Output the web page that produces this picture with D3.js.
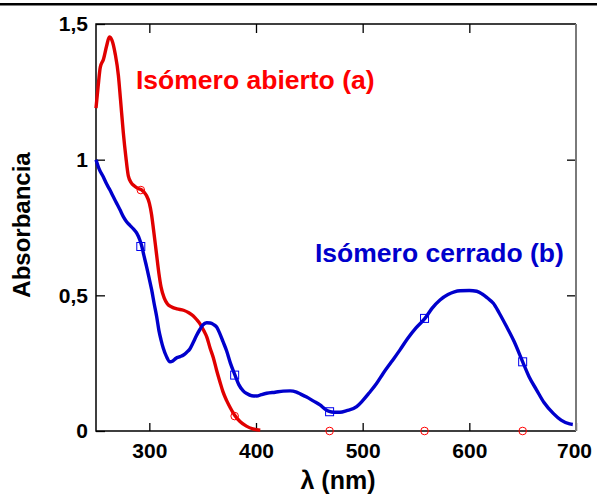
<!DOCTYPE html>
<html>
<head>
<meta charset="utf-8">
<script src="https://cdn.jsdelivr.net/npm/d3@7"></script>
<style>
  body { margin: 0; background: #fff; }
  text { font-family: "Liberation Sans", Arial, sans-serif; font-weight: bold; }
</style>
</head>
<body>
<div id="chart"></div>
<script>
// wavelength (nm) / absorbance
const openWl = [250, 252, 254, 257, 260, 262.5, 265, 268, 271, 273, 275.6, 278, 280.3, 283, 286, 290, 293, 297, 300, 302, 304, 306.5, 309, 311, 314, 317, 321, 326, 332, 337, 341, 344.5, 347.5, 351, 354, 357, 360, 363, 366.3, 369, 372.5, 376, 380, 385, 391, 397, 404];
const openAbs = [1.19, 1.27, 1.34, 1.37, 1.42, 1.452, 1.44, 1.39, 1.31, 1.22, 1.10, 1.01, 0.94, 0.915, 0.903, 0.893, 0.888, 0.87, 0.84, 0.80, 0.74, 0.66, 0.58, 0.53, 0.49, 0.468, 0.457, 0.45, 0.445, 0.436, 0.425, 0.41, 0.395, 0.37, 0.345, 0.305, 0.27, 0.225, 0.18, 0.145, 0.112, 0.085, 0.058, 0.035, 0.018, 0.008, 0.003];

const closedWl = [250, 253, 256.8, 260, 263.1, 266, 269.4, 272.5, 275.6, 278.5, 282, 285, 288.2, 291, 293, 295, 297.4, 300, 302.2, 304.5, 306.9, 309, 311, 313.1, 316, 319.4, 322, 325, 328.8, 332, 335, 338, 341, 344, 347.5, 350, 353.8, 357, 360, 363.1, 366, 369, 372.5, 376, 380.3, 384, 388, 391.3, 396, 400.7, 405, 410, 418, 425.6, 432, 438, 441.3, 447.5, 454, 460, 465, 468.7, 473, 478.7, 485, 494.4, 500, 506, 513, 519.3, 527, 535, 542, 550, 558.4, 565, 572.5, 580, 586, 591.3, 600, 606.9, 612, 617, 622.5, 628, 635, 642, 650, 656, 663.1, 670, 678.7, 686, 694, 697];
const closedAbs = [1.0, 0.965, 0.937, 0.91, 0.888, 0.865, 0.839, 0.815, 0.79, 0.772, 0.757, 0.745, 0.729, 0.705, 0.68, 0.645, 0.606, 0.56, 0.52, 0.47, 0.421, 0.37, 0.335, 0.305, 0.275, 0.255, 0.258, 0.268, 0.274, 0.28, 0.29, 0.302, 0.325, 0.35, 0.375, 0.39, 0.399, 0.398, 0.393, 0.383, 0.36, 0.33, 0.295, 0.25, 0.206, 0.17, 0.148, 0.138, 0.13, 0.129, 0.134, 0.139, 0.143, 0.147, 0.148, 0.143, 0.137, 0.125, 0.11, 0.096, 0.08, 0.072, 0.069, 0.069, 0.075, 0.09, 0.112, 0.14, 0.175, 0.213, 0.255, 0.299, 0.34, 0.38, 0.415, 0.452, 0.483, 0.503, 0.513, 0.517, 0.518, 0.515, 0.505, 0.49, 0.471, 0.435, 0.384, 0.33, 0.255, 0.2, 0.151, 0.105, 0.065, 0.04, 0.026, 0.024];

// symbols drawn on the curves
const markWl = [292, 380, 469, 558, 650];
const openMarks = [0.888, 0.055, 0, 0, 0];
const closedMarks = [0.68, 0.206, 0.071, 0.415, 0.255];

const xTicks = [300, 400, 500, 600, 700];
const yTicks = [0, 0.5, 1, 1.5];
const yTickLabels = ["0", "0,5", "1", "1,5"];

const margin = {top: 24, right: 21, bottom: 64, left: 96},
  width = 597 - margin.left - margin.right,
  height = 495 - margin.top - margin.bottom;

const svgRoot = d3.select("#chart")
  .append("svg")
    .attr("width", 597)
    .attr("height", 495);

// thick rule across the top of the figure
svgRoot.append("line")
  .attr("x1", 0).attr("x2", 597)
  .attr("y1", 4.2).attr("y2", 4.2)
  .style("stroke", "#000")
  .style("stroke-width", 2.6);

const svg = svgRoot.append("g")
  .attr("transform", `translate(${margin.left}, ${margin.top})`);

const x = d3.scaleLinear().domain([250, 700]).range([0, width]);
const y = d3.scaleLinear().domain([0, 1.5]).range([height, 0]);

// axes with inward ticks
const xAxis = svg.append("g")
  .attr("transform", `translate(0, ${height})`)
  .call(d3.axisBottom(x).tickValues(xTicks).tickSize(-8).tickPadding(12).tickFormat(d3.format("d")));
const xTop = svg.append("g")
  .call(d3.axisTop(x).tickValues([300, 400, 500, 600]).tickSize(-9).tickFormat(""));
const yAxis = svg.append("g")
  .call(d3.axisLeft(y).tickValues(yTicks).tickSize(-9).tickPadding(8)
    .tickFormat((d, i) => yTickLabels[i]));
const yRight = svg.append("g")
  .attr("transform", `translate(${width}, 0)`)
  .call(d3.axisRight(y).tickValues([0.5, 1]).tickSize(-9).tickFormat(""));

[xAxis, xTop, yAxis, yRight].forEach(function(g) {
  g.select(".domain").remove();
  g.selectAll("line").style("stroke", "#000").style("stroke-width", 1.3);
  g.selectAll("text").style("font-size", "21px").style("fill", "#000")
    .style("font-family", "'Liberation Sans', Arial, sans-serif").style("font-weight", "bold");
});
xAxis.selectAll("text").filter(d => d == 700).attr("dx", "-2");

// frame
svg.append("path")
  .attr("d", `M${width},0H0V${height}H${width}`)
  .style("fill", "none").style("stroke", "#000").style("stroke-width", 1.5);
svg.append("line")
  .attr("x1", width).attr("x2", width).attr("y1", 0).attr("y2", height)
  .style("stroke", "#7a7a7a").style("stroke-width", 2);

const line = d3.line()
  .x(d => x(d[0]))
  .y(d => y(d[1]))
  .curve(d3.curveMonotoneX);

svg.append("path")
  .datum(d3.zip(openWl, openAbs))
  .attr("d", line)
  .style("fill", "none").style("stroke", "#e00000").style("stroke-width", 3.4)
  .style("stroke-linejoin", "round");

svg.append("path")
  .datum(d3.zip(closedWl, closedAbs))
  .attr("d", line)
  .style("fill", "none").style("stroke", "#0000cc").style("stroke-width", 3.4)
  .style("stroke-linejoin", "round");

svg.selectAll(".mk-open")
  .data(d3.zip(markWl, openMarks))
  .join("circle")
    .attr("class", "mk-open")
    .attr("cx", d => x(d[0]))
    .attr("cy", d => y(d[1]))
    .attr("r", 3.8)
    .style("fill", "none").style("stroke", "#ff0000").style("stroke-width", 1);

svg.selectAll(".mk-closed")
  .data(d3.zip(markWl, closedMarks))
  .join("rect")
    .attr("class", "mk-closed")
    .attr("x", d => x(d[0]) - 4)
    .attr("y", d => y(d[1]) - 4)
    .attr("width", 8).attr("height", 8)
    .style("fill", "none").style("stroke", "#0000ee").style("stroke-width", 1);

// labels
svgRoot.append("text")
  .attr("x", 136).attr("y", 89)
  .text("Isómero abierto (a)")
  .style("font-size", "26.5px")
  .style("fill", "#ff0000");

svgRoot.append("text")
  .attr("x", 315).attr("y", 261.5)
  .text("Isómero cerrado (b)")
  .style("font-size", "26.5px")
  .style("fill", "#0000cc");

svgRoot.append("text")
  .attr("x", margin.left + width / 2 + 2).attr("y", 489)
  .attr("text-anchor", "middle")
  .text("λ (nm)")
  .style("font-size", "25px")
  .style("fill", "#000");

svgRoot.append("text")
  .attr("transform", "translate(30, 225) rotate(-90)")
  .attr("text-anchor", "middle")
  .text("Absorbancia")
  .style("font-size", "24px")
  .style("fill", "#000");
</script>
</body>
</html>
